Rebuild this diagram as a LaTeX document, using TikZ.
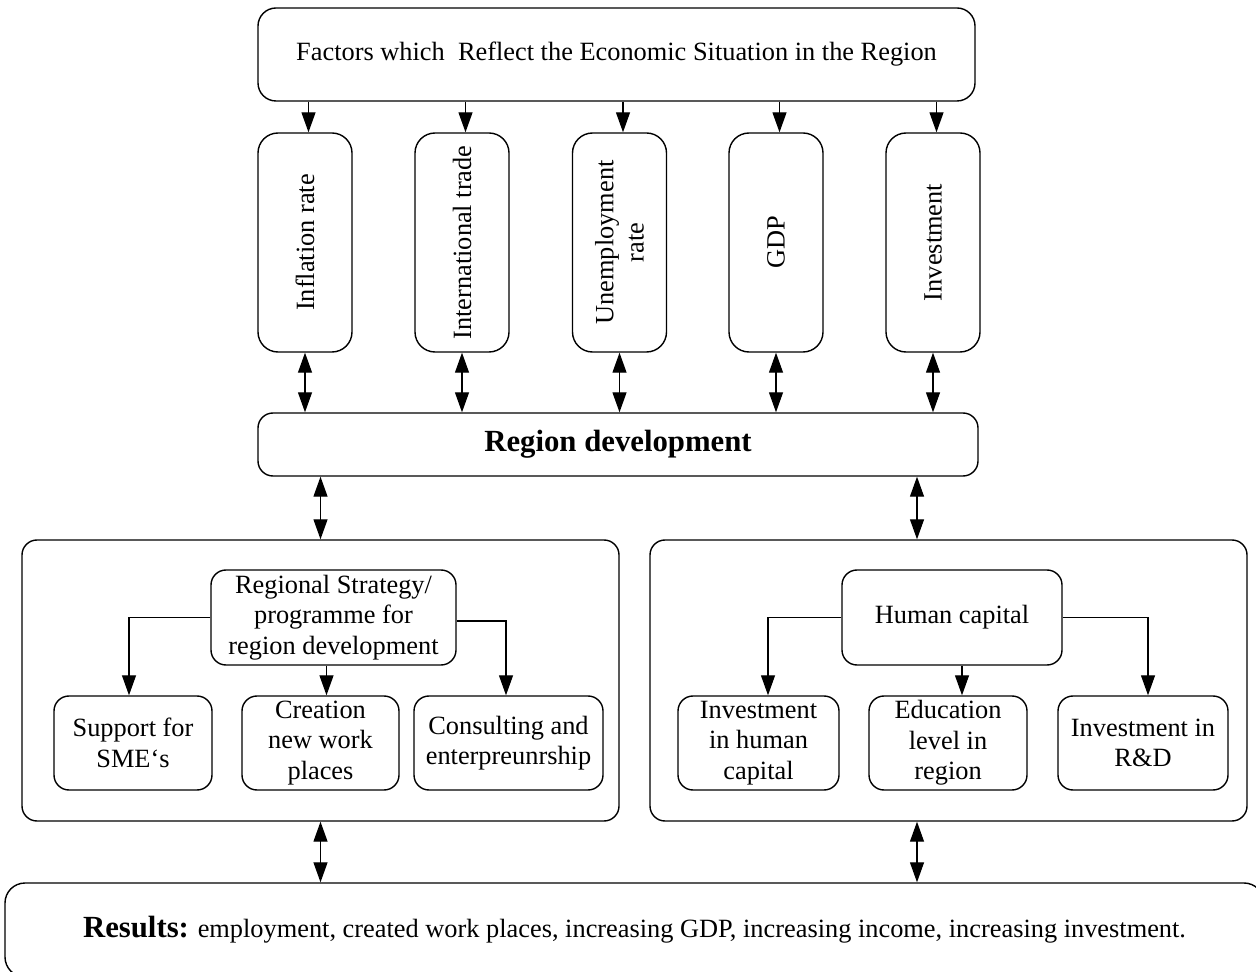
\documentclass[tikz,border=0pt]{standalone}
\usepackage{fontspec}
\setmainfont{Liberation Serif}
\usetikzlibrary{arrows.meta}

\begin{document}
\begin{tikzpicture}[
        box/.style={draw, rounded corners=0.3cm, line width=0.8pt, align=center, inner sep=1pt, font=\fontsize{15}{17.3}\selectfont},
        vbox/.style={box, rotate=90, minimum width=4.38cm, minimum height=1.88cm, rounded corners=0.4cm},
        link/.style={-{Triangle[length=0.4cm,width=0.28cm]}, line width=0.7pt},
        both/.style={{Triangle[length=0.4cm,width=0.28cm]}-{Triangle[length=0.4cm,width=0.28cm]}, line width=0.7pt}
    ]
        \clip (0,0) rectangle (25.12,-19.44);

        % factors
        \node[box, minimum width=14.34cm, minimum height=1.86cm, rounded corners=0.36cm] (factors) at (12.33,-1.09) {Factors which~ Reflect the Economic Situation in the Region};
        \node[vbox] (infl) at (6.10,-4.85) {Inflation rate};
        \node[vbox] (trade) at (9.24,-4.85) {International trade};
        \node[vbox] (unempl) at (12.39,-4.85) {Unemployment\\rate};
        \node[vbox] (gdp) at (15.52,-4.85) {GDP};
        \node[vbox] (invest) at (18.66,-4.85) {Investment};
        \node[box, minimum width=14.40cm, minimum height=1.26cm, font=\fontsize{17.5}{20}\selectfont\bfseries] (regdev) at (12.36,-8.89) {Region development};

        \draw[link] ([xshift=0.07cm]infl.east |- factors.south) -- ([xshift=0.07cm]infl.east);
        \draw[link] ([xshift=0.07cm]trade.east |- factors.south) -- ([xshift=0.07cm]trade.east);
        \draw[link] ([xshift=0.07cm]unempl.east |- factors.south) -- ([xshift=0.07cm]unempl.east);
        \draw[link] ([xshift=0.07cm]gdp.east |- factors.south) -- ([xshift=0.07cm]gdp.east);
        \draw[link] ([xshift=0.07cm]invest.east |- factors.south) -- ([xshift=0.07cm]invest.east);
        \draw[both] (infl.west) -- (infl.west |- regdev.north);
        \draw[both] (trade.west) -- (trade.west |- regdev.north);
        \draw[both] (unempl.west) -- (unempl.west |- regdev.north);
        \draw[both] (gdp.west) -- (gdp.west |- regdev.north);
        \draw[both] (invest.west) -- (invest.west |- regdev.north);

        % strategy
        \node[box, minimum width=11.94cm, minimum height=5.62cm] (strat) at (6.41,-13.61) {};
        \node[box, minimum width=4.90cm, minimum height=1.90cm] (prog) at (6.67,-12.35) {Regional Strategy/\\programme for\\region development};
        \node[box, minimum width=3.16cm, minimum height=1.88cm] (sme) at (2.66,-14.86) {Support for\\SME‘s};
        \node[box, minimum width=3.14cm, minimum height=1.88cm] (jobs) at (6.41,-14.86) {Creation\\new work\\places};
        \node[box, minimum width=3.78cm, minimum height=1.88cm] (consult) at (10.17,-14.86) {Consulting and\\enterpreunrship};
        \draw[link] (prog.west) -| ([xshift=-0.08cm]sme.north);
        \draw[link] ([xshift=0.12cm]jobs.north |- prog.south) -- ([xshift=0.12cm]jobs.north);
        \draw[link] ([yshift=-0.07cm]prog.east) -| ([xshift=-0.05cm]consult.north);

        % human capital
        \node[box, minimum width=11.94cm, minimum height=5.62cm] (human) at (18.97,-13.61) {};
        \node[box, minimum width=4.40cm, minimum height=1.90cm] (hcap) at (19.04,-12.35) {Human capital};
        \node[box, minimum width=3.22cm, minimum height=1.88cm] (invhum) at (15.17,-14.86) {Investment\\in human\\capital};
        \node[box, minimum width=3.16cm, minimum height=1.88cm] (educ) at (18.96,-14.86) {Education\\level in\\region};
        \node[box, minimum width=3.40cm, minimum height=1.88cm] (rnd) at (22.86,-14.86) {Investment in\\R\&D};
        \draw[link] (hcap.west) -| ([xshift=0.19cm]invhum.north);
        \draw[link] ([xshift=0.28cm]educ.north |- hcap.south) -- ([xshift=0.28cm]educ.north);
        \draw[link] (hcap.east) -| ([xshift=0.10cm]rnd.north);

        \draw[both] (strat.north |- regdev.south) -- (strat.north);
        \draw[both] ([xshift=-0.63cm]human.north |- regdev.south) -- ([xshift=-0.63cm]human.north);

        % results
        \node[box, minimum width=25.18cm, minimum height=1.88cm, rounded corners=0.4cm] (results) at (12.69,-18.60) {{\fontsize{17.5}{20}\selectfont\bfseries Results:} employment, created work places, increasing GDP, increasing income, increasing investment.};
        \draw[both] (strat.south) -- (strat.south |- results.north);
        \draw[both] ([xshift=-0.63cm]human.south) -- ([xshift=-0.63cm]human.south |- results.north);
    \end{tikzpicture}
\end{document}
